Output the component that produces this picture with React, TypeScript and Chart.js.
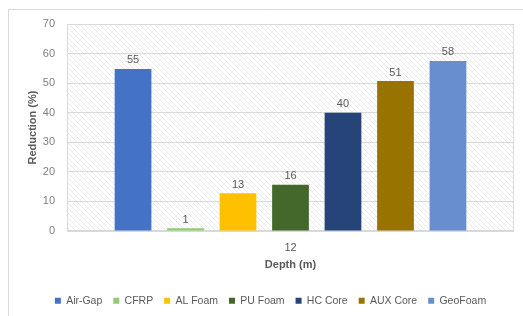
import React, { useEffect, useRef } from "react";
import { Chart, registerables } from "chart.js";

Chart.register(...registerables);

const categories = ["12"];
const seriesNames = ["Air-Gap", "CFRP", "AL Foam", "PU Foam", "HC Core", "AUX Core", "GeoFoam"];
const seriesValues = [54.8, 0.9, 12.8, 15.6, 40.0, 50.7, 57.5];
const seriesColors = ["#4472C4", "#92CC6F", "#FFC000", "#43682B", "#264478", "#997300", "#698ED0"];
const yTicks = [0, 10, 20, 30, 40, 50, 60, 70];

const FONT = "'Liberation Sans', Arial, sans-serif";

function makePattern(): CanvasPattern | string {
  const pc = document.createElement("canvas");
  pc.width = 5;
  pc.height = 5;
  const c = pc.getContext("2d");
  if (!c) return "#ffffff";
  c.fillStyle = "#ffffff";
  c.fillRect(0, 0, 5, 5);
  c.strokeStyle = "#ebebeb";
  c.lineWidth = 1;
  c.beginPath();
  c.moveTo(0, 0);
  c.lineTo(5, 5);
  c.moveTo(-1, 4);
  c.lineTo(1, 6);
  c.moveTo(4, -1);
  c.lineTo(6, 1);
  c.stroke();
  const p = c.createPattern(pc, "repeat");
  return p || "#ffffff";
}

const backgroundPlugin = {
  id: "bgFrame",
  beforeDraw(chart: any) {
    const { ctx, chartArea } = chart;
    ctx.save();
    ctx.fillStyle = "#ffffff";
    ctx.fillRect(0, 0, chart.width, chart.height);
    ctx.strokeStyle = "#d9d9d9";
    ctx.lineWidth = 1;
    ctx.beginPath();
    ctx.moveTo(8.5, chart.height);
    ctx.lineTo(8.5, 9.5);
    ctx.lineTo(chart.width, 9.5);
    ctx.stroke();
    ctx.fillStyle = makePattern();
    ctx.fillRect(chartArea.left, chartArea.top, chartArea.right - chartArea.left, chartArea.bottom - chartArea.top);
    ctx.restore();
  },
  beforeDatasetsDraw(chart: any) {
    const { ctx, chartArea } = chart;
    ctx.save();
    ctx.strokeStyle = "#d9d9d9";
    ctx.lineWidth = 1;
    ctx.strokeRect(
      Math.round(chartArea.left) + 0.5,
      Math.round(chartArea.top) + 0.5,
      Math.round(chartArea.right - chartArea.left) - 1,
      Math.round(chartArea.bottom - chartArea.top) - 1
    );
    ctx.restore();
  },
};

const valueLabelPlugin = {
  id: "valueLabels",
  afterDatasetsDraw(chart: any) {
    const { ctx } = chart;
    ctx.save();
    ctx.font = `11px ${FONT}`;
    ctx.fillStyle = "#595959";
    ctx.textAlign = "center";
    ctx.textBaseline = "bottom";
    chart.data.datasets.forEach((ds: any, i: number) => {
      const meta = chart.getDatasetMeta(i);
      meta.data.forEach((el: any, j: number) => {
        const v = ds.data[j];
        ctx.fillText(String(Math.round(v)), el.x, el.y - 3);
      });
    });
    ctx.restore();
  },
};

export default function App() {
  const ref = useRef<HTMLCanvasElement | null>(null);

  useEffect(() => {
    if (!ref.current) return;
    const chart = new Chart(ref.current, {
      type: "bar",
      data: {
        labels: categories,
        datasets: seriesNames.map((name, i) => ({
          label: name,
          data: [seriesValues[i]],
          backgroundColor: seriesColors[i],
          borderWidth: 0,
          categoryPercentage: 0.822,
          barPercentage: 0.7,
        })),
      },
      options: {
        responsive: false,
        animation: false,
        layout: { padding: { left: 27, right: 9, top: 24, bottom: 0 } },
        plugins: {
          legend: {
            position: "bottom",
            labels: {
              boxWidth: 6,
              boxHeight: 6,
              padding: 11,
              color: "#595959",
              font: { family: FONT, size: 10.5 },
            },
          },
          tooltip: { enabled: false },
        },
        scales: {
          x: {
            grid: { display: false, drawTicks: false },
            border: { display: false },
            ticks: { color: "#595959", padding: 10, font: { family: FONT, size: 11 } },
            title: {
              display: true,
              text: "Depth (m)",
              color: "#595959",
              font: { family: FONT, size: 11, weight: "bold" },
              padding: { top: 0, bottom: 12.9 },
            },
            afterFit(scale: any) {
              scale.height = 53.5;
            },
          },
          y: {
            min: 0,
            max: 70,
            afterBuildTicks(scale: any) {
              scale.ticks = yTicks.map((v) => ({ value: v }));
            },
            grid: { color: "#d9d9d9", drawTicks: false },
            border: { display: false },
            ticks: { color: "#7f7f7f", padding: 12, font: { family: FONT, size: 11 } },
            title: {
              display: true,
              text: "Reduction (%)",
              color: "#595959",
              font: { family: FONT, size: 11, weight: "bold", lineHeight: 1 },
              padding: { top: 0, bottom: 0 },
            },
            afterFit(scale: any) {
              scale.width = 40;
            },
          },
        },
      } as any,
      plugins: [backgroundPlugin, valueLabelPlugin],
    });
    return () => chart.destroy();
  }, []);

  return (
    <div style={{ position: "absolute", left: 0, top: 0, width: 523, height: 316 }}>
      <canvas ref={ref} width={523} height={316} />
    </div>
  );
}
